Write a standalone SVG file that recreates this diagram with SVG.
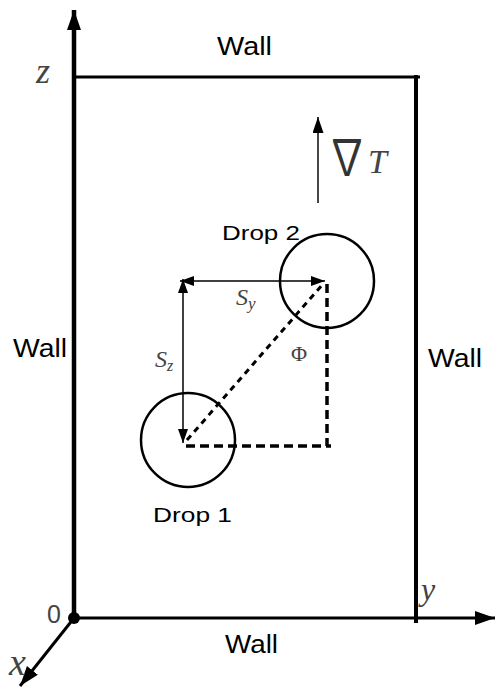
<svg xmlns="http://www.w3.org/2000/svg" width="497" height="689" viewBox="0 0 497 689">
<style>
.wall{stroke:#000;fill:none}
.lbl{font-family:"Liberation Sans",Arial,sans-serif;fill:#000}
.math{font-family:"Liberation Serif","DejaVu Serif",serif;font-style:italic;fill:#444}
.thin{stroke:#000;stroke-width:1.5;fill:none}
.dash{stroke:#000;stroke-width:3.5;fill:none;stroke-dasharray:9 5}
.dot{stroke:#000;stroke-width:3;fill:none;stroke-dasharray:6 5}
.drop{stroke:#000;stroke-width:2.5;fill:none}
</style>
<defs>
<marker id="bigArrow" markerUnits="userSpaceOnUse" markerWidth="22" markerHeight="16" refX="20" refY="7" orient="auto">
<path d="M0,0 L20,7 L0,14 z" fill="#000"/>
</marker>
<marker id="smallArrow" markerUnits="userSpaceOnUse" markerWidth="16" markerHeight="12" refX="14" refY="5" orient="auto-start-reverse">
<path d="M0,0 L14,5 L0,10 z" fill="#000"/>
</marker>
<marker id="gradArrow" markerUnits="userSpaceOnUse" markerWidth="18" markerHeight="12" refX="16" refY="5.5" orient="auto">
<path d="M0,0 L16,5.5 L0,11 z" fill="#000"/>
</marker>
</defs>

<g id="axes">
<line class="wall" x1="74" y1="618" x2="74" y2="10" stroke-width="4.5" marker-end="url(#bigArrow)"/>
<line class="wall" x1="74" y1="618" x2="495" y2="618" stroke-width="3" marker-end="url(#bigArrow)"/>
<line class="wall" x1="74" y1="618" x2="20" y2="686" stroke-width="3" marker-end="url(#bigArrow)"/>
<circle cx="74" cy="618" r="6" fill="#000"/>
<text class="math" x="36" y="83" font-size="36">z</text>
<text class="math" x="421" y="600" font-size="32">y</text>
<text class="math" x="9" y="675" font-size="38">x</text>
<text class="lbl" x="47" y="623" font-size="25" style="fill:#444">0</text>
</g>

<g id="walls">
<line class="wall" x1="74" y1="77" x2="420" y2="77" stroke-width="3"/>
<line class="wall" x1="416" y1="75" x2="416" y2="623" stroke-width="4"/>
<text class="lbl" x="217" y="55" font-size="25" textLength="55" lengthAdjust="spacingAndGlyphs">Wall</text>
<text class="lbl" x="13" y="357" font-size="25" textLength="54" lengthAdjust="spacingAndGlyphs">Wall</text>
<text class="lbl" x="428" y="367" font-size="25" textLength="54" lengthAdjust="spacingAndGlyphs">Wall</text>
<text class="lbl" x="225" y="653" font-size="25" textLength="53" lengthAdjust="spacingAndGlyphs">Wall</text>
</g>

<g id="gradient">
<line x1="318" y1="203" x2="318" y2="117" stroke="#333" stroke-width="1.8" marker-end="url(#gradArrow)"/>
<text transform="translate(327,175) scale(0.8,1)" font-size="50" fill="#333" font-family="Noto Sans CJK JP,sans-serif">∇</text>
<text class="math" x="368" y="173" font-size="34" fill="#333">T</text>
</g>

<g id="drop2">
<circle class="drop" cx="327" cy="281" r="47"/>
<text class="lbl" x="222" y="240" font-size="21" textLength="78" lengthAdjust="spacingAndGlyphs">Drop 2</text>
</g>

<g id="drop1">
<circle class="drop" cx="188" cy="440" r="47"/>
<text class="lbl" x="153" y="522" font-size="21" textLength="79" lengthAdjust="spacingAndGlyphs">Drop 1</text>
</g>

<g id="connectors">
<line class="thin" x1="180" y1="281" x2="325" y2="281" marker-start="url(#smallArrow)" marker-end="url(#smallArrow)"/>
<line class="thin" x1="183" y1="279" x2="183" y2="443" marker-start="url(#smallArrow)" marker-end="url(#smallArrow)"/>
<line class="dot" x1="187" y1="440" x2="323" y2="284"/>
<line class="dash" x1="327" y1="284" x2="327" y2="446"/>
<line class="dash" x1="186" y1="446" x2="331" y2="446"/>
<text class="math" x="236" y="305" font-size="24">S<tspan font-size="17" dy="4">y</tspan></text>
<text class="math" x="155" y="367" font-size="24">S<tspan font-size="16" dy="4">z</tspan></text>
<text x="291" y="361" font-size="22" fill="#444" font-family="Liberation Serif,serif">Φ</text>
</g>
</svg>
